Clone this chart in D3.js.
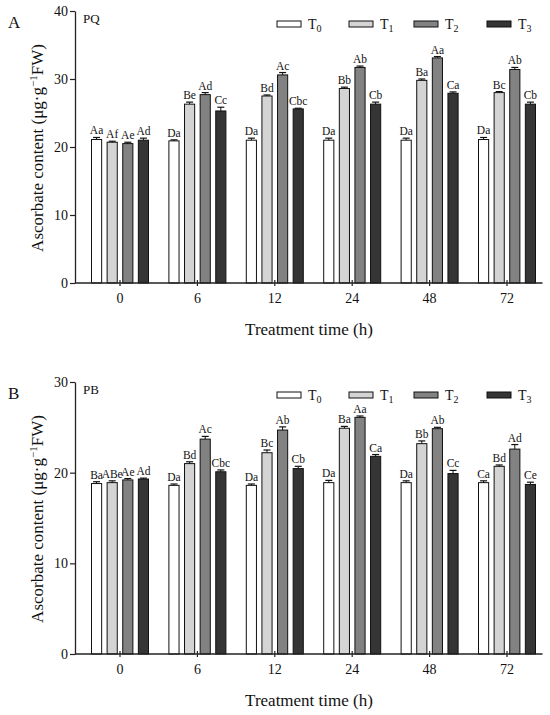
<!DOCTYPE html>
<html>
<head>
<meta charset="utf-8">
<script src="https://cdn.jsdelivr.net/npm/d3@7"></script>
<style>
  body { margin: 0; background: #fff; }
  svg { display: block; }
  text { font-family: "Liberation Serif", "Times New Roman", serif; fill: #111; }
</style>
</head>
<body>
<svg id="chart" width="550" height="715"></svg>
<script>
// ---------- data ----------
const categories = ["0", "6", "12", "24", "48", "72"];
const seriesNames = ["T0", "T1", "T2", "T3"];
const seriesSub = ["0", "1", "2", "3"];

// Panel A (PQ)
const pqT0 = [21.1, 20.9, 21.0, 21.0, 21.0, 21.1];
const pqT1 = [20.7, 26.3, 27.5, 28.6, 29.8, 28.0];
const pqT2 = [20.5, 27.7, 30.6, 31.7, 33.1, 31.4];
const pqT3 = [21.0, 25.3, 25.6, 26.3, 27.9, 26.3];
const pqErrT0 = [0.3, 0.15, 0.3, 0.3, 0.3, 0.3];
const pqErrT1 = [0.15, 0.3, 0.15, 0.2, 0.2, 0.15];
const pqErrT2 = [0.2, 0.3, 0.35, 0.2, 0.2, 0.3];
const pqErrT3 = [0.3, 0.55, 0.1, 0.3, 0.2, 0.3];
const pqLabT0 = ["Aa", "Da", "Da", "Da", "Da", "Da"];
const pqLabT1 = ["Af", "Be", "Bd", "Bb", "Ba", "Bc"];
const pqLabT2 = ["Ae", "Ad", "Ac", "Ab", "Aa", "Ab"];
const pqLabT3 = ["Ad", "Cc", "Cbc", "Cb", "Ca", "Cb"];
const pqTicks = [0, 10, 20, 30, 40];

// Panel B (PB)
const pbT0 = [18.8, 18.6, 18.6, 18.9, 18.9, 18.9];
const pbT1 = [18.9, 21.0, 22.2, 24.9, 23.2, 20.7];
const pbT2 = [19.2, 23.7, 24.7, 26.1, 24.85, 22.6];
const pbT3 = [19.3, 20.1, 20.45, 21.8, 19.9, 18.7];
const pbErrT0 = [0.2, 0.15, 0.15, 0.25, 0.2, 0.2];
const pbErrT1 = [0.2, 0.2, 0.3, 0.2, 0.3, 0.15];
const pbErrT2 = [0.15, 0.3, 0.35, 0.15, 0.15, 0.5];
const pbErrT3 = [0.1, 0.2, 0.25, 0.2, 0.35, 0.25];
const pbLabT0 = ["Ba", "Da", "Da", "Da", "Da", "Ca"];
const pbLabT1 = ["ABe", "Bd", "Bc", "Ba", "Bb", "Bd"];
const pbLabT2 = ["Ae", "Ac", "Ab", "Aa", "Ab", "Ad"];
const pbLabT3 = ["Ad", "Cbc", "Cb", "Ca", "Cc", "Ce"];
const pbTicks = [0, 10, 20, 30];

const colors = ["#ffffff", "#d4d4d4", "#828282", "#353535"];

// ---------- drawing ----------
const svg = d3.select("#chart");

function panel(cfg) {
  const g = svg.append("g");
  const y = d3.scaleLinear().domain([0, cfg.max]).range([cfg.bottom, cfg.top]);
  const x0 = d3.scaleBand().domain(categories).range([81.3, 545.7]).paddingInner(0).paddingOuter(0);
  const x1 = d3.scaleBand().domain(seriesNames).range([-28.5, 28.5]).paddingInner(0.35).paddingOuter(0);

  const rows = [];
  categories.forEach((c, i) => {
    seriesNames.forEach((s, j) => {
      rows.push({ c, s, j, v: cfg.vals[j][i], e: cfg.errs[j][i], lab: cfg.labs[j][i] });
    });
  });

  const bx = d => x0(d.c) + x0.bandwidth() / 2 + x1(d.s);

  // bars
  g.selectAll("rect.bar").data(rows).join("rect")
    .attr("class", "bar")
    .attr("x", d => bx(d))
    .attr("width", x1.bandwidth())
    .attr("y", d => y(d.v))
    .attr("height", d => y(0) - y(d.v))
    .attr("fill", d => colors[d.j])
    .attr("stroke", "#111")
    .attr("stroke-width", 1);

  // error bars
  const cx = d => bx(d) + x1.bandwidth() / 2;
  g.selectAll("line.err").data(rows).join("line")
    .attr("x1", cx).attr("x2", cx)
    .attr("y1", d => y(d.v)).attr("y2", d => y(d.v + d.e))
    .attr("stroke", "#111").attr("stroke-width", 1);
  g.selectAll("line.cap").data(rows).join("line")
    .attr("x1", d => cx(d) - 3.5).attr("x2", d => cx(d) + 3.5)
    .attr("y1", d => y(d.v + d.e)).attr("y2", d => y(d.v + d.e))
    .attr("stroke", "#111").attr("stroke-width", 1.2);

  // significance letters
  g.selectAll("text.lab").data(rows).join("text")
    .attr("x", cx)
    .attr("y", d => y(d.v + d.e) - 3)
    .attr("text-anchor", "middle")
    .attr("font-size", "11.5px")
    .text(d => d.lab);

  // y axis
  const yAxis = d3.axisLeft(y).tickValues(cfg.ticks).tickSize(5).tickSizeOuter(0).tickPadding(2);
  const ya = g.append("g").attr("transform", "translate(75,0)").call(yAxis);
  ya.select(".domain").attr("stroke", "#222").attr("stroke-width", 1.3);
  ya.selectAll(".tick line").attr("stroke", "#222").attr("stroke-width", 1.2);
  ya.selectAll(".tick text").attr("font-size", "14px")
    .attr("font-family", "Liberation Serif, Times New Roman, serif").attr("fill", "#111");

  // x axis
  const xAxis = d3.axisBottom(x0).tickSize(4).tickSizeOuter(0).tickPadding(6);
  const xa = g.append("g").attr("transform", `translate(0,${cfg.bottom})`).call(xAxis);
  xa.select(".domain").remove();
  xa.append("line").attr("x1", 75).attr("x2", 542.5).attr("y1", 0).attr("y2", 0)
    .attr("stroke", "#222").attr("stroke-width", 1.3);
  xa.selectAll(".tick line").attr("stroke", "#222").attr("stroke-width", 1.2).attr("y1", -3).attr("y2", 3);
  xa.selectAll(".tick text").attr("font-size", "14px")
    .attr("font-family", "Liberation Serif, Times New Roman, serif").attr("fill", "#111");

  // x title
  g.append("text").attr("x", 309).attr("y", cfg.bottom + 52)
    .attr("text-anchor", "middle").attr("font-size", "17px").text("Treatment time (h)");

  // y title
  const yt = g.append("text")
    .attr("transform", `translate(43,${(cfg.top + cfg.bottom) / 2 + 1}) rotate(-90)`)
    .attr("text-anchor", "middle").attr("font-size", "17px");
  yt.append("tspan").text("Ascorbate content (μg·g");
  yt.append("tspan").attr("baseline-shift", "super").attr("font-size", "11px").text("−1");
  yt.append("tspan").text("FW)");

  // panel letter & treatment name
  g.append("text").attr("x", 8).attr("y", cfg.top + 17).attr("font-size", "17px").text(cfg.letter);
  g.append("text").attr("x", 83).attr("y", cfg.top + 12).attr("font-size", "13px").text(cfg.name);

  // legend
  const legX = [277, 349, 414, 487];
  const lg = g.append("g").attr("transform", `translate(0,${cfg.top + 13})`);
  seriesNames.forEach((s, j) => {
    lg.append("rect").attr("x", legX[j]).attr("y", -3).attr("width", 24).attr("height", 6)
      .attr("fill", colors[j]).attr("stroke", "#111").attr("stroke-width", 1);
    const t = lg.append("text").attr("x", legX[j] + 31).attr("y", 5).attr("font-size", "14px");
    t.append("tspan").text("T");
    t.append("tspan").attr("font-size", "10px").attr("dy", 3).text(seriesSub[j]);
  });
}

panel({
  top: 11, bottom: 283, max: 40, ticks: pqTicks, letter: "A", name: "PQ",
  vals: [pqT0, pqT1, pqT2, pqT3], errs: [pqErrT0, pqErrT1, pqErrT2, pqErrT3],
  labs: [pqLabT0, pqLabT1, pqLabT2, pqLabT3]
});
panel({
  top: 382, bottom: 654, max: 30, ticks: pbTicks, letter: "B", name: "PB",
  vals: [pbT0, pbT1, pbT2, pbT3], errs: [pbErrT0, pbErrT1, pbErrT2, pbErrT3],
  labs: [pbLabT0, pbLabT1, pbLabT2, pbLabT3]
});
</script>
</body>
</html>
